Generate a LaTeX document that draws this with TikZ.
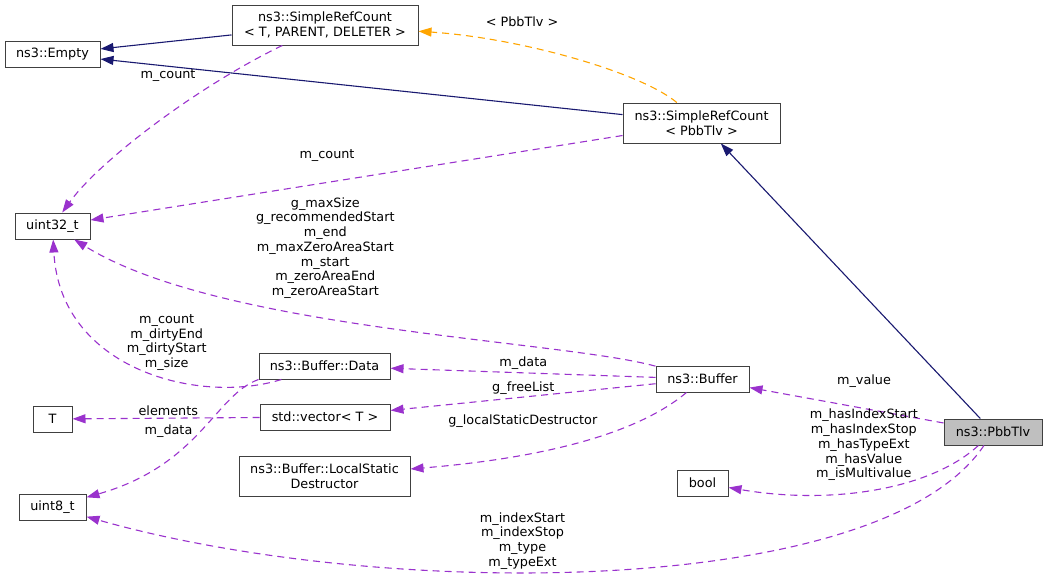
\documentclass[tikz,border=0pt]{standalone}
\usepackage{fontspec}
\setmainfont{DejaVu Sans}
\usetikzlibrary{arrows.meta}
\definecolor{navy}{HTML}{191970}
\definecolor{orchid}{HTML}{9A32CD}
\definecolor{tmplorange}{HTML}{FFA500}
\tikzset{
	cls/.style={draw=black!75, line width=1pt, minimum height=26pt, inner sep=2pt, align=center, font=\fontsize{12.8}{14.7}\selectfont},
	lbl/.style={align=center, inner sep=0pt, font=\fontsize{12.8}{14.7}\selectfont},
	tip/.style={-{Triangle[length=13pt,width=9pt]}},
	inh/.style={tip, color=navy, line width=1.1pt},
	mem/.style={tip, color=orchid, line width=1.1pt, dash pattern=on 7pt off 5pt},
	tmpl/.style={tip, color=tmplorange, line width=1.1pt, dash pattern=on 7pt off 5pt}
}
\begin{document}
\begin{tikzpicture}[x=1pt, y=-1pt]
	\useasboundingbox (0,0) rectangle (1048,579);

	\node[cls, minimum width=95pt]  (empty) at (52.5,54)  {ns3::Empty};
	\node[cls, minimum width=186pt, minimum height=40pt] (srcT) at (325,25) {ns3::SimpleRefCount\\< T, PARENT, DELETER >};
	\node[cls, minimum width=157pt, minimum height=40pt] (srcP) at (701.5,123) {ns3::SimpleRefCount\\< PbbTlv >};
	\node[cls, minimum width=75pt]  (u32)   at (52.5,226) {uint32\_t};
	\node[cls, minimum width=131pt] (data)  at (324.5,366) {ns3::Buffer::Data};
	\node[cls, minimum width=93pt]  (buf)   at (702.5,379) {ns3::Buffer};
	\node[cls, minimum width=39pt]  (T)     at (52.5,419) {T};
	\node[cls, minimum width=130pt] (vec)   at (325,417)  {std::vector< T >};
	\node[cls, minimum width=171pt, minimum height=40pt] (lsd) at (324.5,476) {ns3::Buffer::LocalStatic\\Destructor};
	\node[cls, minimum width=51pt]  (bool)  at (702.5,483) {bool};
	\node[cls, minimum width=67pt]  (u8)    at (52.5,507) {uint8\_t};
	\node[cls, minimum width=98pt, fill=black!25] (tlv) at (993,432) {ns3::PbbTlv};

	\path [inh] (srcT) edge (empty);
	\path [inh] (srcP) edge (empty);
	\path [inh] (tlv) edge (srcP);
	\draw [tmpl] (srcP) .. controls (640,72) and (520,38) .. (srcT);
	\draw [mem] (srcT) .. controls (200,85) and (100,160) .. (u32);
	\path [mem] (srcP) edge (u32);
	\draw [mem] (buf) .. controls (560,340) and (220,330) .. (u32);
	\draw [mem] (data) .. controls (200,405) and (60,370) .. (u32);
	\path [mem] (buf) edge (data);
	\path [mem] (buf) edge (vec);
	\draw [mem] (buf) .. controls (630,440) and (520,460) .. (lsd);
	\path [mem] (vec) edge (T);
	\draw [mem] (data.south west) .. controls (215,395) and (200,465) .. (u8);
	\path [mem] (tlv) edge (buf);
	\draw [mem] (tlv) .. controls (930,490) and (830,505) .. (bool);
	\draw [mem] (tlv) .. controls (880,600) and (380,600) .. (u8);

	\node[lbl] (ltmpl)  at (522,22)    {< PbbTlv >};
	\node[lbl] (lcntT)  at (168,76)    {m\_count};
	\node[lbl] (lcntP)  at (327,156)   {m\_count};
	\node[lbl] (lbuf)   at (325.3,248) {g\_maxSize\\g\_recommendedStart\\m\_end\\m\_maxZeroAreaStart\\m\_start\\m\_zeroAreaEnd\\m\_zeroAreaStart};
	\node[lbl] (ldata)  at (166.7,342.5) {m\_count\\m\_dirtyEnd\\m\_dirtyStart\\m\_size};
	\node[lbl] (lmdata) at (523.3,362.7) {m\_data};
	\node[lbl] (lfree)  at (523.3,387.7) {g\_freeList};
	\node[lbl] (llsd)   at (522.8,420.7) {g\_localStaticDestructor};
	\node[lbl] (lelem)  at (168.3,410.7) {elements};
	\node[lbl] (lu8)    at (168.5,430.7) {m\_data};
	\node[lbl] (lval)   at (864,380.7)   {m\_value};
	\node[lbl] (lbool)  at (863.8,445)   {m\_hasIndexStart\\m\_hasIndexStop\\m\_hasTypeExt\\m\_hasValue\\m\_isMultivalue};
	\node[lbl] (ltype)  at (522.5,540.8) {m\_indexStart\\m\_indexStop\\m\_type\\m\_typeExt};
\end{tikzpicture}
\end{document}
